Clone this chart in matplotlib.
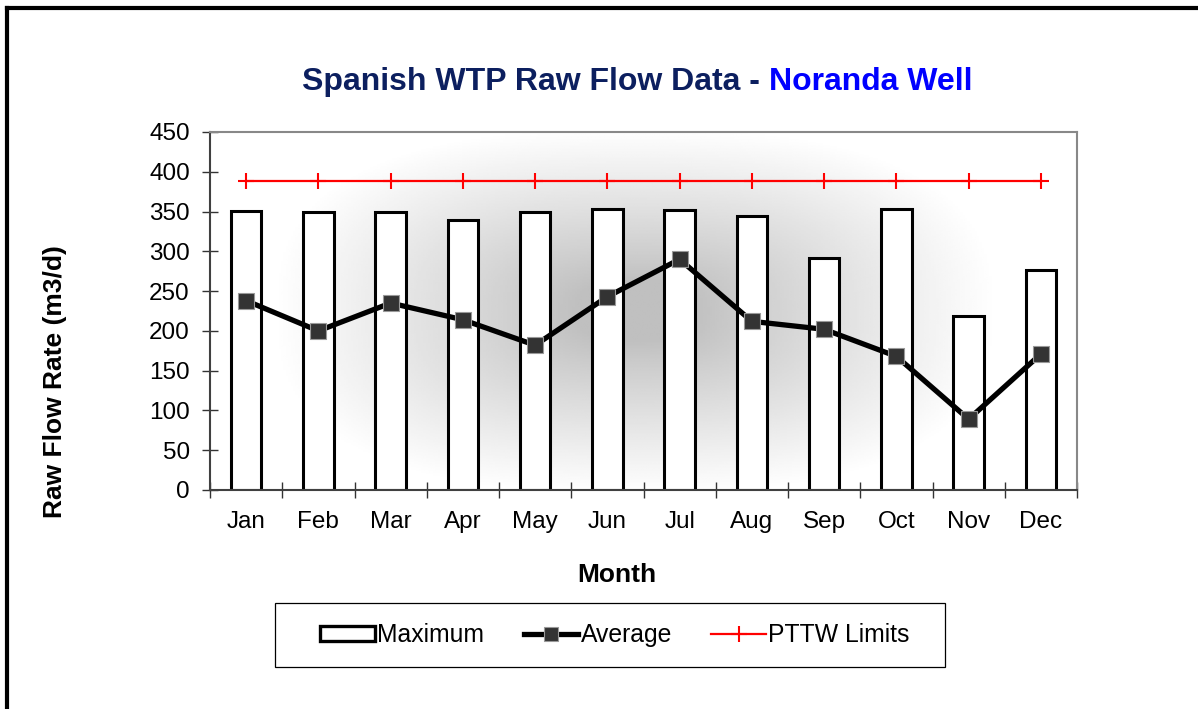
"""
Spanish WTP raw flow data for the Noranda Well: monthly maximum and
average raw flow against the PTTW limit.
"""

import matplotlib.pyplot as plt
import numpy as np
from matplotlib.lines import Line2D
from matplotlib.patches import Patch, Rectangle

MONTHS = ["Jan", "Feb", "Mar", "Apr", "May", "Jun",
          "Jul", "Aug", "Sep", "Oct", "Nov", "Dec"]
MAXIMUM = [351, 350, 350, 339, 350, 353, 352, 345, 292, 353, 219, 277]
AVERAGE = [238, 200, 235, 214, 182, 243, 290, 212, 202, 168, 89, 171]
PTTW_LIMITS = [388, 388, 388, 388, 388, 388, 388, 388, 388, 388, 388, 388]

W, H = 1198, 709

plt.rcParams["font.family"] = ["Liberation Sans", "DejaVu Sans"]

fig = plt.figure(figsize=(W / 100, H / 100), dpi=100)
ax = fig.add_axes([210 / W, 1 - 490 / H, 867 / W, 358 / H])

# --- soft grey "from centre" background fill, rounded-rectangle shaped ---
yy, xx = np.mgrid[0:1:240j, 0:1:360j]
dx = np.abs(xx - 0.49) / 0.44
dy = np.abs(yy - 0.50) / 0.54
r = (dx ** 2.6 + dy ** 2.6) ** (1 / 2.6)
t = np.clip((r - 0.15) / 0.8, 0, 1) ** 0.9
shade = 0.75 + 0.25 * t
ax.imshow(shade, extent=(0, 1, 0, 1), transform=ax.transAxes, cmap="gray",
          vmin=0, vmax=1, aspect="auto", interpolation="bilinear", zorder=0)

x = np.arange(len(MONTHS))
ax.bar(x, MAXIMUM, width=0.42, color="white", edgecolor="black",
       linewidth=2.2, zorder=2)
ax.plot(x, PTTW_LIMITS, color="red", lw=1.6, marker="+", ms=11, mew=1.5,
        zorder=3)
ax.plot(x, AVERAGE, color="black", lw=3.8, marker="s", ms=12,
        mfc="#333333", mec="#999999", mew=0.8, zorder=4)

ax.set_xlim(-0.5, 11.5)
ax.set_ylim(0, 450)

ax.set_xticks(x, MONTHS)
ax.set_xticks(np.arange(-0.5, 12, 1), minor=True)
ax.tick_params(axis="x", which="major", length=0, pad=15, labelsize=17.5)
ax.tick_params(axis="x", which="minor", direction="inout", length=11,
               width=1, color="#333333")
ax.set_yticks(range(0, 451, 50))
ax.tick_params(axis="y", direction="inout", length=11, width=1,
               color="#333333", labelsize=17.5, pad=9)

for side in ["left", "bottom"]:
    ax.spines[side].set_color("#404040")
    ax.spines[side].set_linewidth(1.5)
for side in ["top", "right"]:
    ax.spines[side].set_color("#888888")
    ax.spines[side].set_linewidth(1.5)

ax.set_xlabel("Month", fontsize=19, fontweight="bold")
ax.xaxis.set_label_coords(0.469, -0.205)
ax.set_ylabel("Raw Flow Rate (m3/d)", fontsize=19, fontweight="bold")
ax.yaxis.set_label_coords(-0.165, 0.304)

# --- two-colour title ---
t1 = fig.text(302 / W, 1 - 90 / H, "Spanish WTP Raw Flow Data - ",
              fontsize=23, fontweight="bold", color="#0c1f5f",
              ha="left", va="baseline")
ax.annotate("Noranda Well", xy=(1, 0), xycoords=t1, ha="left", va="bottom",
            fontsize=23, fontweight="bold", color="#0000ff",
            annotation_clip=False)

# --- legend ---
handles = [
    Patch(facecolor="white", edgecolor="black", linewidth=2.4),
    Line2D([], [], color="black", lw=3.8, marker="s", ms=10,
           mfc="#333333", mec="#999999", mew=0.8),
    Line2D([], [], color="red", lw=1.6, marker="+", ms=11, mew=1.5),
]
fig.legend(handles, ["Maximum", "Average", "PTTW Limits"], ncol=3,
           loc="center", bbox_to_anchor=(615 / W, 1 - 635 / H),
           frameon=False, fontsize=17.8, handlelength=2.2, handleheight=0.55,
           handletextpad=0.1, columnspacing=1.6, numpoints=1)
fig.add_artist(Rectangle((275 / W, 1 - 667 / H), 670 / W, 64 / H,
                         transform=fig.transFigure, facecolor="none",
                         edgecolor="black", lw=0.9))

# --- outer chart-area border (left and top only are visible) ---
fig.add_artist(Line2D([7 / W, 7 / W], [0, 1 - 8 / H],
                      transform=fig.transFigure, color="black", lw=3))
fig.add_artist(Line2D([7 / W, 1], [1 - 8 / H, 1 - 8 / H],
                      transform=fig.transFigure, color="black", lw=3))

fig.savefig("out.png", dpi=100)
